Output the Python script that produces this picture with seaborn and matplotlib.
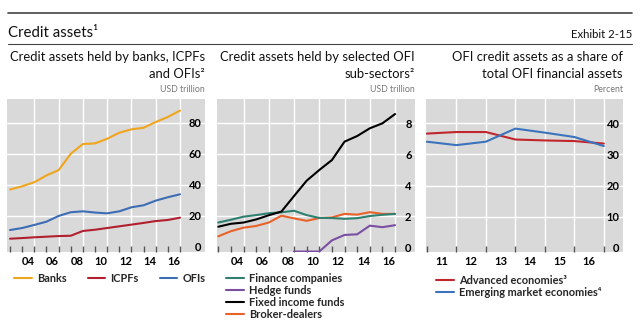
import numpy as np
import pandas as pd
import matplotlib
matplotlib.use("Agg")
import matplotlib.pyplot as plt
import seaborn as sns

# ---------------- data ----------------
years_ab = list(range(2002, 2017))
banks = [37.0, 39.1, 41.7, 46.1, 49.5, 60.1, 66.4, 66.8, 69.8, 73.7, 75.9, 76.9, 80.6, 83.9, 88.0]
icpfs = [5.2, 5.6, 6.1, 6.5, 6.9, 7.1, 10.2, 11.0, 12.1, 13.2, 14.3, 15.4, 16.6, 17.3, 18.8]
ofis = [10.8, 12.1, 14.1, 16.2, 19.9, 22.3, 22.9, 22.1, 21.6, 22.9, 25.5, 26.8, 29.8, 32.0, 33.9]

finance = [1.60, 1.78, 1.98, 2.08, 2.20, 2.26, 2.36, 2.08, 1.90, 1.89, 1.84, 1.88, 2.02, 2.10, 2.16]
hedge = [np.nan, np.nan, np.nan, np.nan, np.nan, np.nan, -0.27, -0.27, -0.27, 0.45, 0.80, 0.84, 1.40, 1.30, 1.43]
fixed = [1.33, 1.52, 1.60, 1.80, 2.07, 2.31, 3.31, 4.30, 4.99, 5.63, 6.82, 7.18, 7.68, 8.00, 8.60]
broker = [0.71, 1.04, 1.27, 1.38, 1.60, 2.04, 1.87, 1.71, 1.89, 1.93, 2.16, 2.11, 2.27, 2.16, 2.16]

years_c = list(range(2010, 2017))
advanced = [36.7, 37.2, 37.2, 34.8, 34.5, 34.3, 33.5]
emerging = [34.1, 33.0, 34.1, 38.3, 37.0, 35.6, 32.7]

yticks_a = [0, 20, 40, 60, 80]
yticks_b = [0, 2, 4, 6, 8]
yticks_c = [0, 10, 20, 30, 40]
xlabels_ab = ["04", "06", "08", "10", "12", "14", "16"]
xlabels_c = ["11", "12", "13", "14", "15", "16"]

# ---------------- style ----------------
sns.set_theme(style="white")
plt.rcParams["font.family"] = ["Lato", "DejaVu Sans"]

W, H = 640, 328
fig = plt.figure(figsize=(W / 100, H / 100), dpi=100)
fig.patch.set_facecolor("white")

BG = "#D9D9D9"
C_BANKS = "#F0A51E"
C_ICPF = "#B0202E"
C_OFI = "#3D6DB5"
C_FIN = "#2F8070"
C_HEDGE = "#7A4EA3"
C_FIXED = "#000000"
C_BROKER = "#E8622A"
C_ADV = "#C0262C"
C_EME = "#3B74BD"

TICK_FS = 8
LEG_FS = 7.9


def fx(px):
    return px / W


def fy(py):
    return 1 - py / H


def make_ax(x0, x1, y0, y1):
    ax = fig.add_axes([fx(x0), fy(y1), fx(x1 - x0), (y1 - y0) / H])
    ax.set_facecolor(BG)
    for s in ax.spines.values():
        s.set_visible(False)
    return ax


def style_ax(ax, xlim, ylim, yticks, tick_years, label_pos, labels, grid_x):
    ax.set_xlim(*xlim)
    ax.set_ylim(*ylim)
    for g in grid_x:
        ax.axvline(g, color="white", lw=1.0, zorder=0.5)
    for t in yticks:
        if t != 0:
            ax.axhline(t, color="white", lw=1.0, zorder=0.5)
    ax.yaxis.tick_right()
    ax.set_yticks(yticks)
    ax.set_yticklabels([str(t) for t in yticks], fontsize=TICK_FS, fontweight="bold", ha="right")
    ax.tick_params(axis="y", length=0, pad=-2.5, labelcolor="black")
    ax.set_xticks(tick_years, minor=True)
    ax.set_xticks(label_pos)
    ax.set_xticklabels(labels, fontsize=TICK_FS, fontweight="bold")
    ax.tick_params(axis="x", which="major", length=0, pad=3, labelcolor="black")
    ax.tick_params(axis="x", which="minor", direction="in", length=4, width=1.0,
                   color="#555555", bottom=True)
    ax.set_xlabel("")
    ax.set_ylabel("")


# ---------------- panel A ----------------
xa = [y + 1 for y in years_ab]
axA = make_ax(7, 205, 99, 252)
dfA = pd.DataFrame({"x": xa, "Banks": banks, "ICPFs": icpfs, "OFIs": ofis})
for name, col in [("Banks", C_BANKS), ("ICPFs", C_ICPF), ("OFIs", C_OFI)]:
    sns.lineplot(data=dfA, x="x", y=name, color=col, lw=1.5, ax=axA, label=name)
style_ax(axA, (2002.75, 2019.06), (-3.4, 95.5), yticks_a,
         list(range(2003, 2018)), [int("20" + l) + 0.5 for l in xlabels_ab], xlabels_ab,
         list(range(2005, 2018, 2)))
axA.legend(loc="upper left", bbox_to_anchor=(fx(14), fy(273)),
           bbox_transform=fig.transFigure, ncol=3, frameon=False,
           handlelength=1.6, handletextpad=0.5, columnspacing=1.9,
           borderpad=0, borderaxespad=0, prop={"weight": "bold", "size": LEG_FS})

# ---------------- panel B ----------------
axB = make_ax(217, 415, 99, 252)
dfB = pd.DataFrame({"x": xa, "Finance companies": finance, "Hedge funds": hedge,
                    "Fixed income funds": fixed, "Broker-dealers": broker})
for name, col in [("Broker-dealers", C_BROKER), ("Finance companies", C_FIN),
                  ("Hedge funds", C_HEDGE), ("Fixed income funds", C_FIXED)]:
    sns.lineplot(data=dfB, x="x", y=name, color=col, lw=1.5, ax=axB, label=name)
style_ax(axB, (2002.9, 2018.58), (-0.30, 9.57), yticks_b,
         list(range(2003, 2018)), [int("20" + l) + 0.5 for l in xlabels_ab], xlabels_ab,
         list(range(2005, 2018, 2)))
hB, lB = axB.get_legend_handles_labels()
order = ["Finance companies", "Hedge funds", "Fixed income funds", "Broker-dealers"]
hmap = dict(zip(lB, hB))
axB.legend([hmap[o] for o in order], order, loc="upper left",
           bbox_to_anchor=(fx(226), fy(273)), bbox_transform=fig.transFigure,
           frameon=False, handlelength=1.6, handletextpad=0.5, labelspacing=0.08,
           borderpad=0, borderaxespad=0, prop={"weight": "bold", "size": LEG_FS})

# ---------------- panel C ----------------
xc = [y + 1 for y in years_c]
axC = make_ax(426, 623, 99, 252)
dfC = pd.DataFrame({"x": xc, "adv": advanced, "eme": emerging})
sns.lineplot(data=dfC, x="x", y="adv", color=C_ADV, lw=1.5, ax=axC, label="Advanced economies³")
sns.lineplot(data=dfC, x="x", y="eme", color=C_EME, lw=1.5, ax=axC, label="Emerging market economies⁴")
style_ax(axC, (2010.97, 2017.65), (-1.3, 47.8), yticks_c,
         list(range(2011, 2018)), [int("20" + l) + 0.5 for l in xlabels_c], xlabels_c,
         list(range(2012, 2018)))
axC.legend(loc="upper left", bbox_to_anchor=(fx(436), fy(275)), bbox_transform=fig.transFigure,
           frameon=False, handlelength=1.6, handletextpad=0.5, labelspacing=0.08,
           borderpad=0, borderaxespad=0, prop={"weight": "bold", "size": LEG_FS})

# ---------------- header texts ----------------
fig.add_artist(plt.Line2D([fx(8), fx(632)], [fy(13), fy(13)], color="#444444", lw=1.2))
fig.add_artist(plt.Line2D([fx(8), fx(632)], [fy(44), fy(44)], color="#444444", lw=0.8))
fig.text(fx(8), fy(33), "Credit assets¹", fontsize=10.8, ha="left", va="center", color="#111111")
fig.text(fx(632), fy(35), "Exhibit 2-15", fontsize=8.2, ha="right", va="center", color="#111111")

titles = [
    (205, "Credit assets held by banks, ICPFs", "and OFIs²", "USD trillion"),
    (415, "Credit assets held by selected OFI", "sub-sectors²", "USD trillion"),
    (623, "OFI credit assets as a share of", "total OFI financial assets", "Percent"),
]
for xr, l1, l2, unit in titles:
    fig.text(fx(xr), fy(57), l1, fontsize=9.4, ha="right", va="center", color="#111111")
    fig.text(fx(xr), fy(74), l2, fontsize=9.4, ha="right", va="center", color="#111111")
    fig.text(fx(xr), fy(90), unit, fontsize=6.3, ha="right", va="center", color="#777777")

fig.savefig("out.png", dpi=100)
